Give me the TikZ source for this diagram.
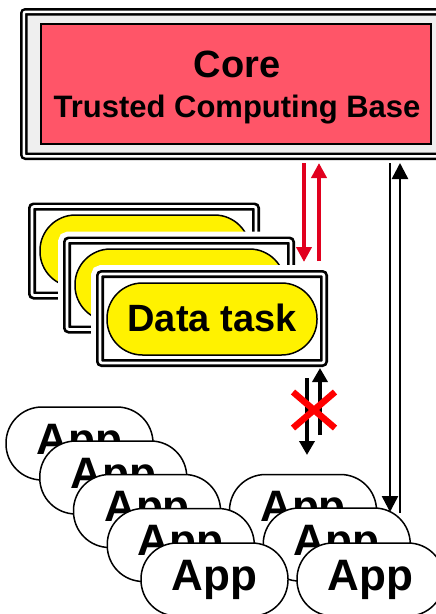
\documentclass[tikz,border=0pt]{standalone}
\usepackage{fontspec}
\setmainfont{Liberation Sans}
\usetikzlibrary{arrows.meta}
\definecolor{corered}{RGB}{255,85,104}
\definecolor{arrowred}{RGB}{225,0,30}
\definecolor{framegray}{RGB}{239,239,239}
\definecolor{crossred}{RGB}{255,0,0}
\begin{document}
\begin{tikzpicture}[x=1pt,y=-1pt,
  coreframe/.style={rectangle, minimum width=424.5pt, minimum height=144.5pt, inner sep=0pt, outer sep=0pt,
    draw=black, line width=2.5pt, double=white, double distance=2.5pt, fill=framegray, rounded corners=2pt},
  corebox/.style={rectangle, minimum width=390pt, minimum height=120pt, inner sep=0pt, outer sep=0pt,
    draw=black, line width=1.2pt, fill=corered},
  taskframe/.style={rectangle, minimum width=224pt, minimum height=89pt, inner sep=0pt, outer sep=0pt,
    draw=black, line width=2.7pt, double=white, double distance=2.6pt, fill=white, rounded corners=2pt,
    preaction={draw=white, line width=18pt, double=none}},
  taskpill/.style={rectangle, rounded corners=35.5pt, minimum width=210pt, minimum height=72pt, inner sep=0pt,
    draw=black, line width=1.5pt, fill=yellow, font=\fontsize{38}{40}\selectfont\bfseries},
  apppill/.style={rectangle, rounded corners=36pt, minimum width=147pt, minimum height=73pt, inner sep=0pt,
    draw=black, line width=1.5pt, fill=white, font=\fontsize{44}{46}\selectfont\bfseries},
  redarrow/.style={draw=arrowred, line width=4pt, -{Triangle[width=15pt,length=15pt]}},
  longarrow/.style={draw=black, line width=2.5pt, -{Triangle[width=16pt,length=16pt]}},
  shortarrow/.style={draw=black, line width=4pt, -{Triangle[width=15pt,length=14pt]}},
  crossline/.style={draw=crossred, line width=6.5pt}
]
\clip (0,0) rectangle (436,614);
\fill[white] (0,0) rectangle (436,614);

% Core
\node[coreframe] (coreframe) at (236,84) {};
\node[corebox] (core) at (236,84) {};
\node[anchor=base, inner sep=0pt, font=\fontsize{38}{40}\selectfont\bfseries] (coretitle) at (237,77) {Core};
\node[anchor=base, inner sep=0pt, font=\fontsize{31}{33}\selectfont\bfseries] (tcb) at (237,117) {Trusted Computing Base};

% Data task stack
\node[taskframe] (f1) at (144,251) {};
\node[taskpill] (p1) at (145,251) {};
\node[taskframe] (f2) at (179,285) {};
\node[taskpill] (p2) at (180,285) {};
\node[taskframe] (f3) at (212,318.5) {};
\node[taskpill] (p3) at (212,319) {\raisebox{2.5pt}{Data task}};

% Apps
\node[apppill] (l1) at (79.5,443.5) {App};
\node[apppill] (l2) at (113.25,477.5) {App};
\node[apppill] (l3) at (147,511) {App};
\node[apppill] (r1) at (303,511) {App};
\node[apppill] (l4) at (180.75,545) {App};
\node[apppill] (r2) at (336.75,544.5) {App};
\node[apppill] (l5) at (214.5,579.5) {App};
\node[apppill] (r3) at (370.5,579.5) {App};

% Connector end points
\coordinate (rda) at (304,163);
\coordinate (rdb) at (304,262);
\coordinate (rua) at (319,261);
\coordinate (rub) at (319,163);
\coordinate (lda) at (390,163);
\coordinate (ldb) at (390,512);
\coordinate (lua) at (400,513);
\coordinate (lub) at (400,163);
\coordinate (sua) at (320,435);
\coordinate (sub) at (320,368);
\coordinate (sda) at (307,378);
\coordinate (sdb) at (307,455);
\coordinate (xa) at (293,392);
\coordinate (xb) at (335,428);
\coordinate (xc) at (293,428);
\coordinate (xd) at (335,392);

\draw[redarrow] (rda) -- (rdb);
\draw[redarrow] (rua) -- (rub);
\draw[longarrow] (lda) -- (ldb);
\draw[longarrow] (lua) -- (lub);
\draw[shortarrow] (sua) -- (sub);
\draw[shortarrow] (sda) -- (sdb);
\draw[crossline] (xa) -- (xb);
\draw[crossline] (xc) -- (xd);
\end{tikzpicture}
\end{document}
